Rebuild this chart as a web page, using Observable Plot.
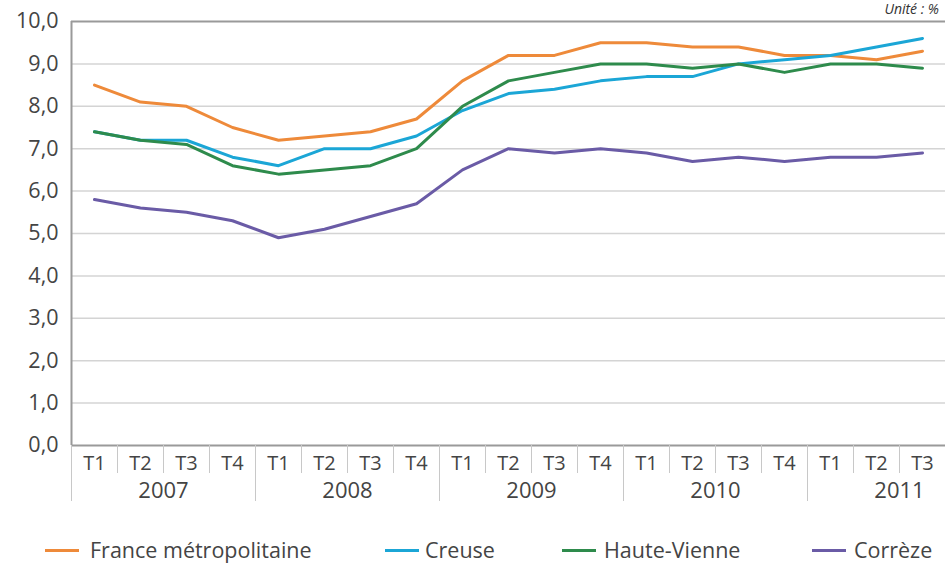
<!DOCTYPE html>
<html><head><meta charset="utf-8">
<script src="https://cdn.jsdelivr.net/npm/d3@7"></script>
<script src="https://cdn.jsdelivr.net/npm/@observablehq/plot@0.6"></script>
<style>
body{margin:0;background:#fff;font-family:"Open Sans",sans-serif;overflow:hidden}
#wrap{position:relative;width:945px;height:564px;overflow:hidden}
#unit{position:absolute;top:-1px;right:6px;font-style:italic;font-size:14px;color:#333;white-space:nowrap}
.leg{position:absolute;top:535px;font-size:21.5px;color:#444;white-space:nowrap;line-height:30px}
.sw{position:absolute;top:14px;height:3px}
</style></head><body><div id="wrap"><div id="unit">Unité : %</div></div>
<script>
const years = ["2007", "2008", "2009", "2010", "2011"];
const quarters = ["T1","T2","T3","T4","T1","T2","T3","T4","T1","T2","T3","T4","T1","T2","T3","T4","T1","T2","T3"];
const seriesNames = ["France métropolitaine", "Creuse", "Haute-Vienne", "Corrèze"];
const seriesColors = ["#EE8A3A", "#1BA6D6", "#2E8B4C", "#6A5BA6"];
const france      = [8.5, 8.1, 8.0, 7.5, 7.2, 7.3, 7.4, 7.7, 8.6, 9.2, 9.2, 9.5, 9.5, 9.4, 9.4, 9.2, 9.2, 9.1, 9.3];
const creuse      = [7.4, 7.2, 7.2, 6.8, 6.6, 7.0, 7.0, 7.3, 7.9, 8.3, 8.4, 8.6, 8.7, 8.7, 9.0, 9.1, 9.2, 9.4, 9.6];
const hauteVienne = [7.4, 7.2, 7.1, 6.6, 6.4, 6.5, 6.6, 7.0, 8.0, 8.6, 8.8, 9.0, 9.0, 8.9, 9.0, 8.8, 9.0, 9.0, 8.9];
const correze     = [5.8, 5.6, 5.5, 5.3, 4.9, 5.1, 5.4, 5.7, 6.5, 7.0, 6.9, 7.0, 6.9, 6.7, 6.8, 6.7, 6.8, 6.8, 6.9];
const yTicks = [0,1,2,3,4,5,6,7,8,9,10];

const seriesValues = [france, creuse, hauteVienne, correze];
const data = seriesNames.flatMap((name, s) => seriesValues[s].map((v, i) => ({series: name, i, v})));
const idx = quarters.map((_, i) => i);
const yearStart = years.map((_, k) => k * 4 - 0.5);
const yearCenter = years.map((_, k) => k * 4 + 1.5);
const innerSep = idx.slice(0, -1).map(i => i + 0.5).filter(b => !yearStart.includes(b));
const fmt = d => d.toFixed(1).replace(".", ",");

const chart = Plot.plot({
  width: 945, height: 530,
  marginLeft: 71, marginRight: 0, marginTop: 21, marginBottom: 85,
  style: {fontFamily: '"Open Sans", sans-serif', fontSize: "20px", color: "#444", background: "#fff", overflow: "visible"},
  x: {type: "linear", domain: [-0.5, 18.5]},
  y: {domain: [0, 10]},
  color: {domain: seriesNames, range: seriesColors},
  marks: [
    Plot.gridY(yTicks.slice(1, -1), {stroke: "#d4d4d4", strokeOpacity: 1, strokeWidth: 1.5}),
    Plot.ruleY([0, 10], {stroke: "#9a9a9a", strokeWidth: 2}),
    Plot.ruleX([-0.5], {stroke: "#9a9a9a", strokeWidth: 2}),
    Plot.line(data, {x: "i", y: "v", z: "series", stroke: "series", strokeWidth: 3, curve: "linear"}),
    Plot.axisY(yTicks, {tickFormat: fmt, tickSize: 0, tickPadding: 13, fontSize: 21.5, label: null}),
    Plot.axisX(idx, {tickFormat: i => quarters[i], tickSize: 0, tickPadding: 10, fontSize: 20, label: null}),
    Plot.axisX(innerSep, {tickFormat: () => "", tickSize: 28, stroke: "#c8c8c8", label: null}),
    Plot.axisX(yearStart, {tickFormat: () => "", tickSize: 56, stroke: "#c8c8c8", label: null}),
    Plot.axisX(yearCenter, {tickFormat: (d, k) => years[k], tickSize: 0, tickPadding: 37, fontSize: 22, label: null})
  ]
});
const wrap = document.getElementById("wrap");
wrap.appendChild(chart);

const legPos = [[45, 90], [385, 425], [562, 604], [812, 854]];
seriesNames.forEach((name, s) => {
  const sw = document.createElement("div");
  sw.className = "leg";
  sw.style.left = legPos[s][0] + "px";
  sw.innerHTML = `<div class="sw" style="left:0;width:34px;background:${seriesColors[s]}"></div>`;
  wrap.appendChild(sw);
  const t = document.createElement("div");
  t.className = "leg";
  t.style.left = legPos[s][1] + "px";
  t.textContent = name;
  wrap.appendChild(t);
});
</script>
</body></html>
